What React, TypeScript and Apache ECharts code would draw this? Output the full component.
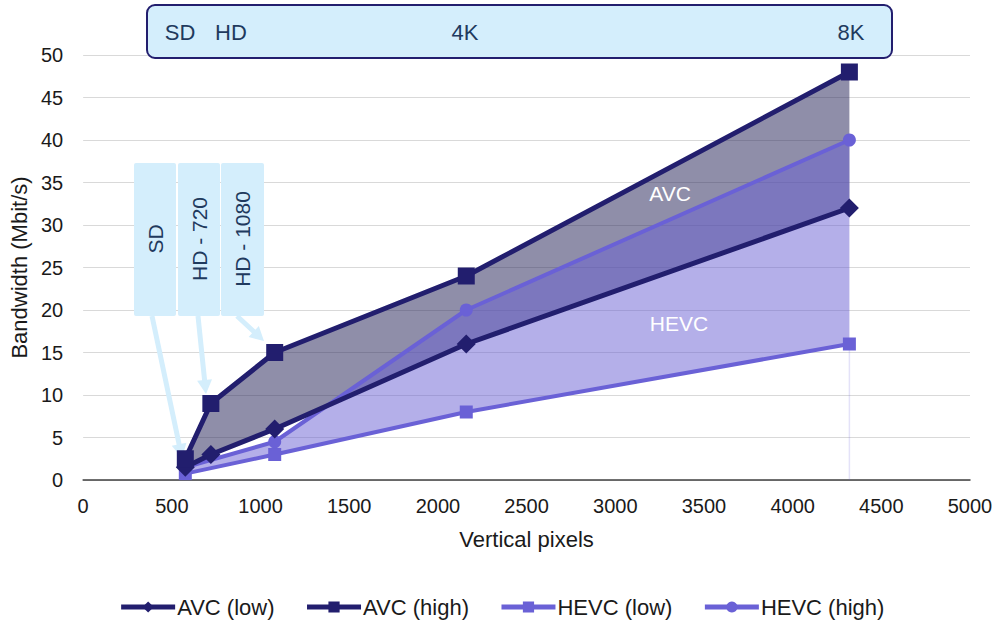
import React, { useEffect, useRef } from "react";
import * as echarts from "echarts";

// Data
const avcX = [576, 720, 1080, 2160, 4320];
const avcLow = [1.5, 3, 6, 16, 32];
const avcHigh = [2.5, 9, 15, 24, 48];
const hevcX = [576, 1080, 2160, 4320];
const hevcLow = [0.75, 3, 8, 16];
const hevcHigh = [1.5, 4.5, 20, 40];

const seriesNames = ["AVC (low)", "AVC (high)", "HEVC (low)", "HEVC (high)"];
const bannerLabels = ["SD", "HD", "4K", "8K"];
const calloutLabels = ["SD", "HD - 720", "HD - 1080"];
const bandLabels = ["AVC", "HEVC"];

const NAVY = "#221e6e";
const PURPLE = "#6a61d6";
const LIGHTBLUE = "#d4eefc";
const LABELBLUE = "#1f3a5e";
const FONT = "Liberation Sans, Arial, sans-serif";

function arrow(x1: number, y1: number, x2: number, y2: number, sw = 5, hw = 15, hl = 14) {
  const dx = x2 - x1, dy = y2 - y1;
  const L = Math.hypot(dx, dy);
  const ux = dx / L, uy = dy / L;
  const px = -uy, py = ux;
  const bx = x2 - ux * hl, by = y2 - uy * hl;
  return [
    [x1 + (px * sw) / 2, y1 + (py * sw) / 2],
    [bx + (px * sw) / 2, by + (py * sw) / 2],
    [bx + (px * hw) / 2, by + (py * hw) / 2],
    [x2, y2],
    [bx - (px * hw) / 2, by - (py * hw) / 2],
    [bx - (px * sw) / 2, by - (py * sw) / 2],
    [x1 - (px * sw) / 2, y1 - (py * sw) / 2],
  ];
}

function band(xs: number[], lo: number[], hi: number[], fill: string, edge: boolean) {
  return (params: any, api: any) => {
    const top = xs.map((x, i) => api.coord([x, hi[i]]));
    const bot = xs.map((x, i) => api.coord([x, lo[i]])).reverse();
    const children: any[] = [
      { type: "polygon", shape: { points: [...top, ...bot] }, style: { fill } },
    ];
    if (edge) {
      const last = xs.length - 1;
      const p1 = api.coord([xs[last], lo[last]]);
      const p2 = api.coord([xs[last], 0]);
      children.push({
        type: "line",
        shape: { x1: p1[0], y1: p1[1], x2: p2[0], y2: p2[1] },
        style: { stroke: "rgba(106,97,214,0.18)", lineWidth: 1.5 },
      });
    }
    return { type: "group", children };
  };
}

export default function App() {
  const ref = useRef<HTMLDivElement>(null);
  useEffect(() => {
    if (!ref.current) return;
    const chart = echarts.init(ref.current, undefined, { renderer: "svg" });
    const bannerX = [180, 231, 465, 851];
    const calloutBoxes = [
      [134, 163, 42, 153],
      [178, 163, 42, 153],
      [221, 163, 43, 153],
    ];
    const arrows = [
      [152, 316, 182, 458],
      [198, 316, 206, 394],
      [237, 316, 264, 341],
    ];
    const graphic: any[] = [
      {
        type: "rect",
        shape: { x: 147, y: 5, width: 745, height: 53, r: 8 },
        style: { fill: LIGHTBLUE, stroke: NAVY, lineWidth: 2 },
        z: 10,
      },
      ...bannerLabels.map((t, i) => ({
        type: "text",
        x: bannerX[i],
        y: 32,
        z: 11,
        style: { text: t, fill: LABELBLUE, font: `22px ${FONT}`, align: "center", verticalAlign: "middle" },
      })),
      ...arrows.map((a) => ({
        type: "polygon",
        shape: { points: arrow(a[0], a[1], a[2], a[3]) },
        style: { fill: LIGHTBLUE },
        z: 1,
      })),
      ...calloutBoxes.map((b) => ({
        type: "rect",
        shape: { x: b[0], y: b[1], width: b[2], height: b[3], r: 2 },
        style: { fill: LIGHTBLUE },
        z: 1,
      })),
      ...calloutLabels.map((t, i) => ({
        type: "text",
        x: calloutBoxes[i][0] + calloutBoxes[i][2] / 2,
        y: 239,
        rotation: Math.PI / 2,
        z: 2,
        style: { text: t, fill: LABELBLUE, font: `21px ${FONT}`, align: "center", verticalAlign: "middle" },
      })),
      {
        type: "text",
        x: 670,
        y: 193,
        z: 20,
        style: { text: bandLabels[0], fill: "#ffffff", font: `21px ${FONT}`, align: "center", verticalAlign: "middle" },
      },
      {
        type: "text",
        x: 679,
        y: 323,
        z: 20,
        style: { text: bandLabels[1], fill: "#ffffff", font: `21px ${FONT}`, align: "center", verticalAlign: "middle" },
      },
    ];

    const lineSeries = (name: string, xs: number[], ys: number[], color: string, symbol: string, size: number, width: number, z: number) => ({
      name,
      type: "line",
      data: xs.map((x, i) => [x, ys[i]]),
      symbol,
      symbolSize: size,
      showSymbol: true,
      lineStyle: { color, width },
      itemStyle: { color },
      z,
    });

    chart.setOption({
      animation: false,
      textStyle: { fontFamily: FONT },
      grid: { left: 83, right: 33, top: 55, bottom: 141, containLabel: false },
      legend: {
        data: seriesNames,
        top: 591,
        left: "center",
        itemWidth: 54,
        itemHeight: 14,
        itemGap: 30,
        lineStyle: { width: 5 },
        textStyle: { fontSize: 22, color: "#1a1a1a", fontFamily: FONT, padding: [0, 0, 0, -3] },
      },
      xAxis: {
        type: "value",
        min: 0,
        max: 5000,
        interval: 500,
        name: "Vertical pixels",
        nameLocation: "middle",
        nameGap: 48,
        nameTextStyle: { fontSize: 22, color: "#1a1a1a" },
        axisLine: { show: true, onZero: false, lineStyle: { color: "#404040", width: 1.5 } },
        axisTick: { show: false },
        axisLabel: { fontSize: 20, color: "#1a1a1a", margin: 16, formatter: (v: number) => String(v) },
        splitLine: { show: false },
      },
      yAxis: {
        type: "value",
        min: 0,
        max: 50,
        interval: 5,
        name: "Bandwidth (Mbit/s)",
        nameLocation: "middle",
        nameGap: 50,
        nameTextStyle: { fontSize: 22, color: "#1a1a1a" },
        axisLine: { show: false },
        axisTick: { show: false },
        axisLabel: { fontSize: 20, color: "#1a1a1a", margin: 20 },
        splitLine: { show: true, lineStyle: { color: "#d9d9d9", width: 1 } },
      },
      series: [
        {
          type: "custom",
          name: "AVC band",
          renderItem: band(avcX, avcLow, avcHigh, "rgba(40,38,90,0.52)", false),
          data: [[avcX[0], avcLow[0]]],
          silent: true,
          z: 1,
        },
        {
          type: "custom",
          name: "HEVC band",
          renderItem: band(hevcX, hevcLow, hevcHigh, "rgba(106,96,212,0.5)", true),
          data: [[hevcX[0], hevcLow[0]]],
          silent: true,
          z: 1,
        },
        lineSeries(seriesNames[2], hevcX, hevcLow, PURPLE, "rect", 13, 4, 3),
        lineSeries(seriesNames[3], hevcX, hevcHigh, PURPLE, "circle", 13, 4, 4),
        lineSeries(seriesNames[0], avcX, avcLow, NAVY, "diamond", 19, 5, 5),
        lineSeries(seriesNames[1], avcX, avcHigh, NAVY, "rect", 17, 5, 6),
      ],
      graphic,
    });
    return () => chart.dispose();
  }, []);
  return <div ref={ref} style={{ position: "absolute", left: 0, top: 0, width: 1003, height: 621 }} />;
}
